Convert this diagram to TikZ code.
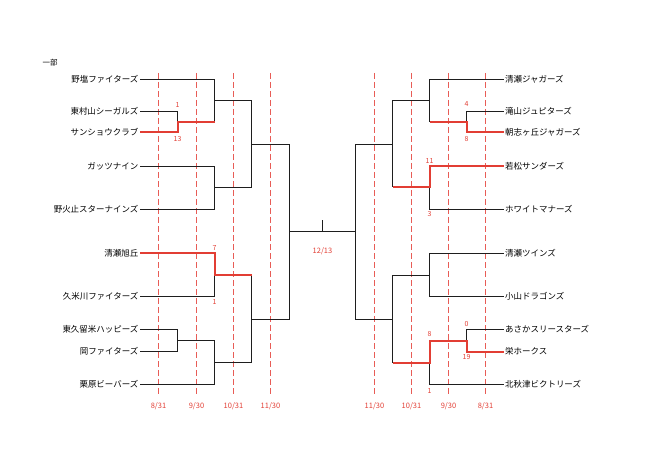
\documentclass[tikz,border=0pt]{standalone}
\usepackage{fontspec}
\setmainfont{Noto Sans CJK JP}
\definecolor{rd}{RGB}{226,62,52}
\definecolor{gl}{RGB}{232,92,86}
\definecolor{ln}{RGB}{30,30,30}
\begin{document}
\begin{tikzpicture}[x=1bp,y=-1bp,
  teamL/.style={font=\fontsize{8.5}{10}\selectfont, inner sep=1.5pt, anchor=east},
  teamR/.style={font=\fontsize{8.5}{10}\selectfont, inner sep=1.5pt, anchor=west},
  bl/.style={draw=ln, line width=1.3bp},
  rl/.style={draw=rd, line width=2bp, line join=miter},
  guide/.style={draw=gl, line width=1.4bp, dash pattern=on 6bp off 3bp},
  score/.style={text=rd, font=\fontsize{7}{8}\selectfont, inner sep=0pt},
  datel/.style={text=rd, font=\fontsize{7.5}{9}\selectfont, inner sep=0pt}]
\useasboundingbox (0,0) rectangle (666,473);

% guide lines
\foreach \gx/\gt [count=\i] in {158.5/8\slash 31,196.5/9\slash 30,233.5/10\slash 31,270.5/11\slash 30,374.5/11\slash 30,411.5/10\slash 31,448.5/9\slash 30,485.5/8\slash 31}{
  \coordinate (gt\i) at (\gx,73);
  \coordinate (gb\i) at (\gx,395);
  \draw[guide] (gt\i) -- (gb\i);
  \node[datel] (dl\i) at (\gx,406) {\gt};
}

\node[font=\fontsize{7.5}{9}\selectfont, inner sep=0pt] (title) at (50,63) {一部};

% left teams
\node[teamL] (L1) at (140,79.5) {野塩ファイターズ};
\node[teamL] (L2) at (140,111.5) {東村山シーガルズ};
\node[teamL] (L3) at (140,132.5) {サンショウクラブ};
\node[teamL] (L4) at (140,166.5) {ガッツナイン};
\node[teamL] (L5) at (140,209.5) {野火止スターナインズ};
\node[teamL] (L6) at (140,253.5) {清瀬旭丘};
\node[teamL] (L7) at (140,296.5) {久米川ファイターズ};
\node[teamL] (L8) at (140,329.5) {東久留米ハッピーズ};
\node[teamL] (L9) at (140,351.5) {岡ファイターズ};
\node[teamL] (L10) at (140,384.5) {栗原ビーバーズ};

% right teams
\node[teamR] (R1) at (503.5,79.5) {清瀬ジャガーズ};
\node[teamR] (R2) at (503.5,111.5) {滝山ジュピターズ};
\node[teamR] (R3) at (503.5,132.5) {朝志ヶ丘ジャガーズ};
\node[teamR] (R4) at (503.5,166.5) {若松サンダーズ};
\node[teamR] (R5) at (503.5,209.5) {ホワイトマナーズ};
\node[teamR] (R6) at (503.5,253.5) {清瀬ツインズ};
\node[teamR] (R7) at (503.5,296.5) {小山ドラゴンズ};
\node[teamR] (R8) at (503.5,329.5) {あさかスリースターズ};
\node[teamR] (R9) at (503.5,351.5) {栄ホークス};
\node[teamR] (R10) at (503.5,384.5) {北秋津ビクトリーズ};

% left junctions
\coordinate (la1) at (177.5,122.5);
\coordinate (lb1) at (214.5,100.5);
\coordinate (lb1t) at (214.5,122.5);
\coordinate (lb2) at (214.5,187.5);
\coordinate (lc1) at (251.5,144.5);
\coordinate (lb3) at (214.5,275.5);
\coordinate (la2) at (177.5,340.5);
\coordinate (lb4) at (214.5,362.5);
\coordinate (lc2) at (251.5,319.5);
\coordinate (ld) at (289.5,231.5);

% right junctions
\coordinate (ra1) at (466.5,122.5);
\coordinate (rb1) at (429.5,100.5);
\coordinate (rb2) at (429.5,187.5);
\coordinate (rc1) at (392.5,144.5);
\coordinate (rb3) at (429.5,275.5);
\coordinate (ra2) at (466.5,340.5);
\coordinate (rb4) at (429.5,362.5);
\coordinate (rc2) at (392.5,319.5);
\coordinate (rd) at (355.5,231.5);
\coordinate (tick) at (322.5,231.5);
\coordinate (ticktop) at (322.5,220);

% ---- left bracket (black)
\draw[bl] (L2.east) -| (la1);
\draw[bl] (L1.east) -| (lb1t);
\draw[bl] (lb1) -- (lb1 -| lc1);
\draw[bl] (L4.east) -| (lb2) |- (L5.east);
\draw[bl] (lb2) -- (lb2 -| lc1);
\draw[bl] (lb1 -| lc1) -- (lb2 -| lc1);
\draw[bl] (lc1) -- (lc1 -| ld);
\draw[bl] (L7.east) -| (lb3);
\draw[bl] (L8.east) -| (la2) |- (L9.east);
\draw[bl] (la2) -- (la2 -| lb4);
\draw[bl] (L10.east) -| (lb4) -- (la2 -| lb4);
\draw[bl] (lb4) -- (lb4 -| lc2);
\draw[bl] (lb3 -| lc2) -- (lb4 -| lc2);
\draw[bl] (lc2) -- (lc2 -| ld);
\draw[bl] (lc1 -| ld) -- (lc2 -| ld);
\draw[bl] (ld) -- (rd);
\draw[bl] (tick) -- (ticktop);

% ---- right bracket (black)
\draw[bl] (R2.west) -| (ra1);
\draw[bl] (R1.west) -| (ra1 -| rb1);
\draw[bl] (rb1) -- (rb1 -| rc1);
\draw[bl] (R5.west) -| (rb2);
\draw[bl] (rb1 -| rc1) -- (rb2 -| rc1);
\draw[bl] (rc1) -- (rc1 -| rd);
\draw[bl] (R6.west) -| (rb3) |- (R7.west);
\draw[bl] (rb3) -- (rb3 -| rc2);
\draw[bl] (R8.west) -| (ra2);
\draw[bl] (R10.west) -| (rb4);
\draw[bl] (rb3 -| rc2) -- (rb4 -| rc2);
\draw[bl] (rc2) -- (rc2 -| rd);
\draw[bl] (rc1 -| rd) -- (rc2 -| rd);

% ---- winners (red)
\draw[rl] (L3.east) -| (la1) -- (lb1t);
\draw[rl] (L6.east) -| (lb3) -- (lb3 -| lc2);
\draw[rl] (R3.west) -| (ra1) -- (ra1 -| rb1);
\draw[rl] (R4.west) -| (rb2) -- (rb2 -| rc1);
\draw[rl] (R9.west) -| (ra2) -- (ra2 -| rb4) -- (rb4) -- (rb4 -| rc2);

% scores
\node[score] (s1) at (177.5,105) {1};
\node[score] (s2) at (177.5,139.5) {13};
\node[score] (s3) at (214.5,248) {7};
\node[score] (s4) at (214.5,302.5) {1};
\node[score] (s5) at (466.5,104.5) {4};
\node[score] (s6) at (466.5,139.5) {8};
\node[score] (s7) at (429.5,161) {11};
\node[score] (s8) at (429.5,214.5) {3};
\node[score] (s9) at (429.5,334.3) {8};
\node[score] (s10) at (429.5,391) {1};
\node[score] (s11) at (466.5,324) {0};
\node[score] (s12) at (466.5,357.5) {19};
\node[datel] (final) at (322.5,251) {12/13};
\end{tikzpicture}
\end{document}
